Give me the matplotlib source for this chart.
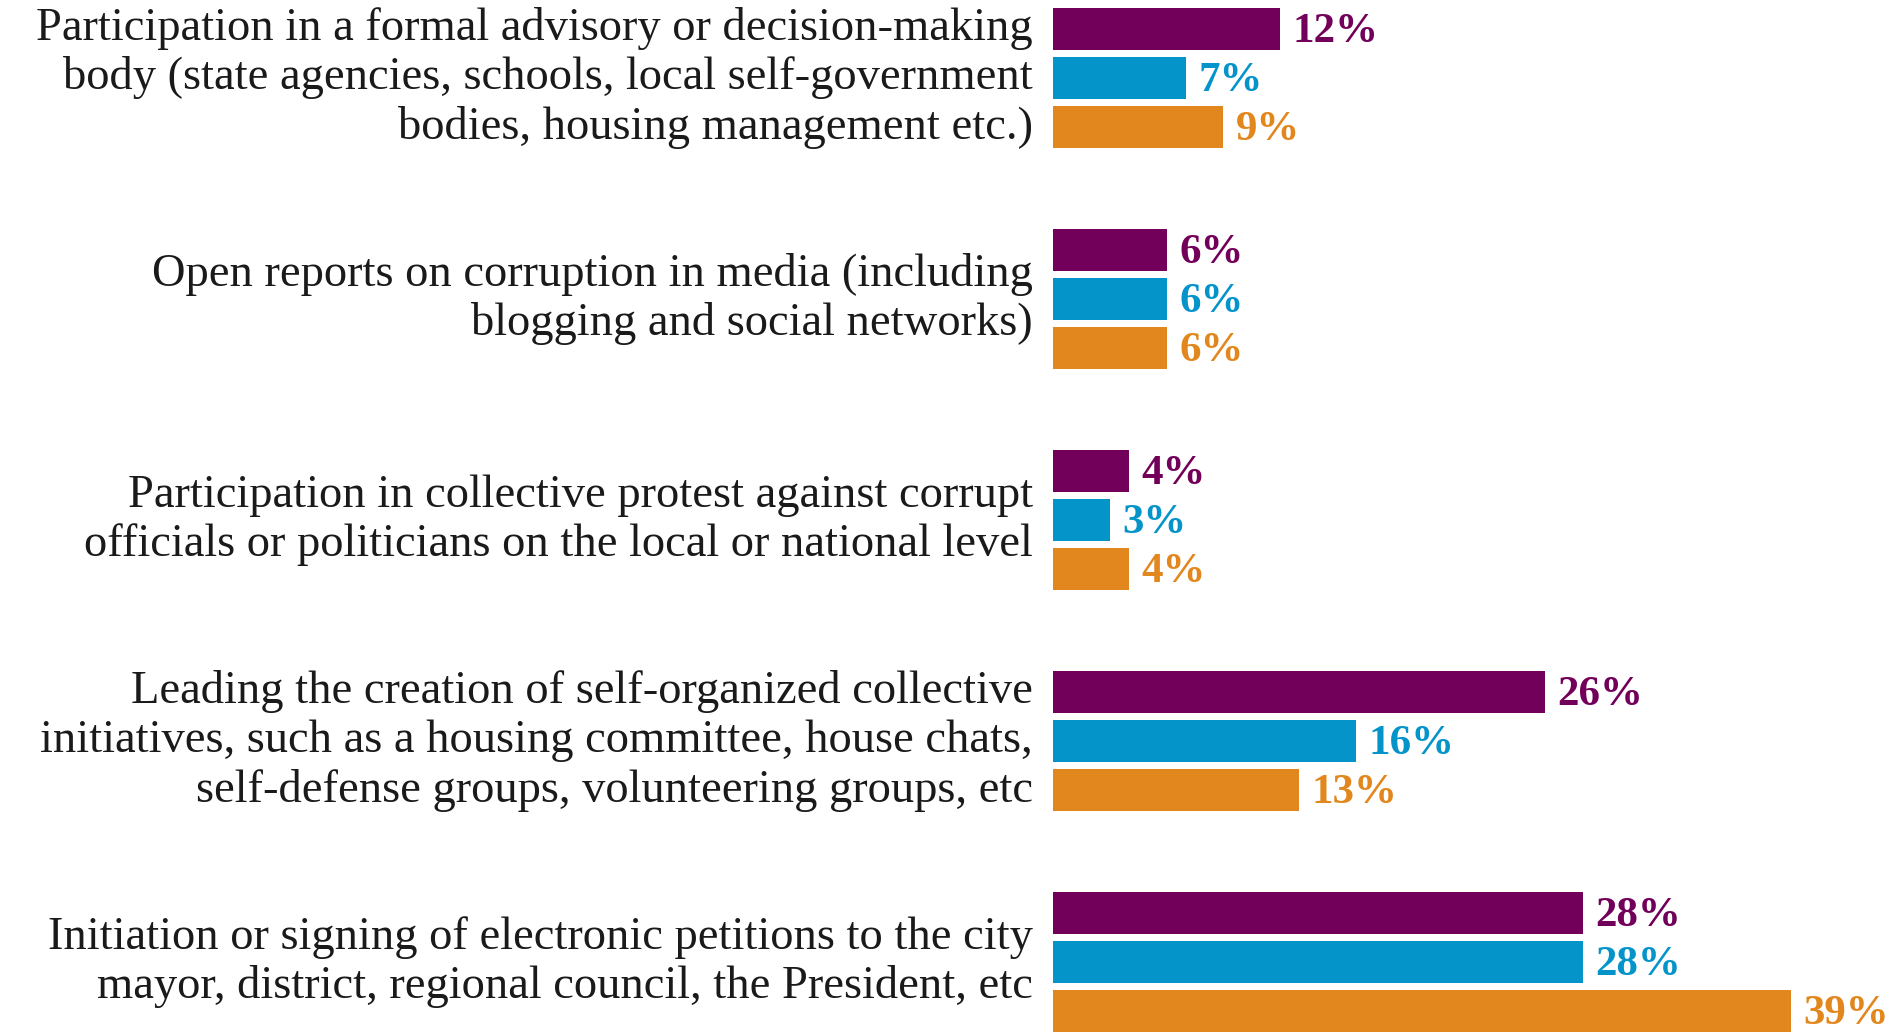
import matplotlib.pyplot as plt
import numpy as np

# Data
categories = [
    "Participation in a formal advisory or decision-making\nbody (state agencies, schools, local self-government\nbodies, housing management etc.)",
    "Open reports on corruption in media (including\nblogging and social networks)",
    "Participation in collective protest against corrupt\nofficials or politicians on the local or national level",
    "Leading the creation of self-organized collective\ninitiatives, such as a housing committee, house chats,\nself-defense groups, volunteering groups, etc",
    "Initiation or signing of electronic petitions to the city\nmayor, district, regional council, the President, etc",
]
series1 = [12, 6, 4, 26, 28]
series2 = [7, 6, 3, 16, 28]
series3 = [9, 6, 4, 13, 39]

colors = ["#72005A", "#0494CA", "#E2871D"]

W, H = 1901, 1032
fig = plt.figure(figsize=(W / 100, H / 100), dpi=100)
ax = fig.add_axes([1053 / W, 0, 1 - 1053 / W, 1])
ax.axis("off")

y = np.arange(len(categories))
unit = 221  # px per group
step = 49 / unit
height = 42 / unit

for k, (vals, col) in enumerate(zip([series1, series2, series3], colors)):
    yy = y + (k - 1) * step
    ax.barh(yy, vals, height=height, color=col, edgecolor="none")
    for yi, v in zip(yy, vals):
        ax.annotate(f"{v}%", xy=(v, yi), xytext=(9, -2), textcoords="offset points",
                    va="center", ha="left", fontsize=31, fontweight="bold",
                    family="Liberation Serif", color=col, annotation_clip=False)

for yi, cat in zip(y, categories):
    ax.annotate(cat, xy=(0, yi), xytext=(-20, 0), textcoords="offset pixels",
                va="center", ha="right", fontsize=33.5, family="Liberation Serif",
                color="#1a1a1a", linespacing=1.2, annotation_clip=False)

# the 39% label runs off the right edge, as in the original
ax.set_xlim(0, (W - 1053) / 18.93)
ax.set_ylim((H - 78) / unit, -78 / unit)

fig.savefig("out.png", dpi=100)
